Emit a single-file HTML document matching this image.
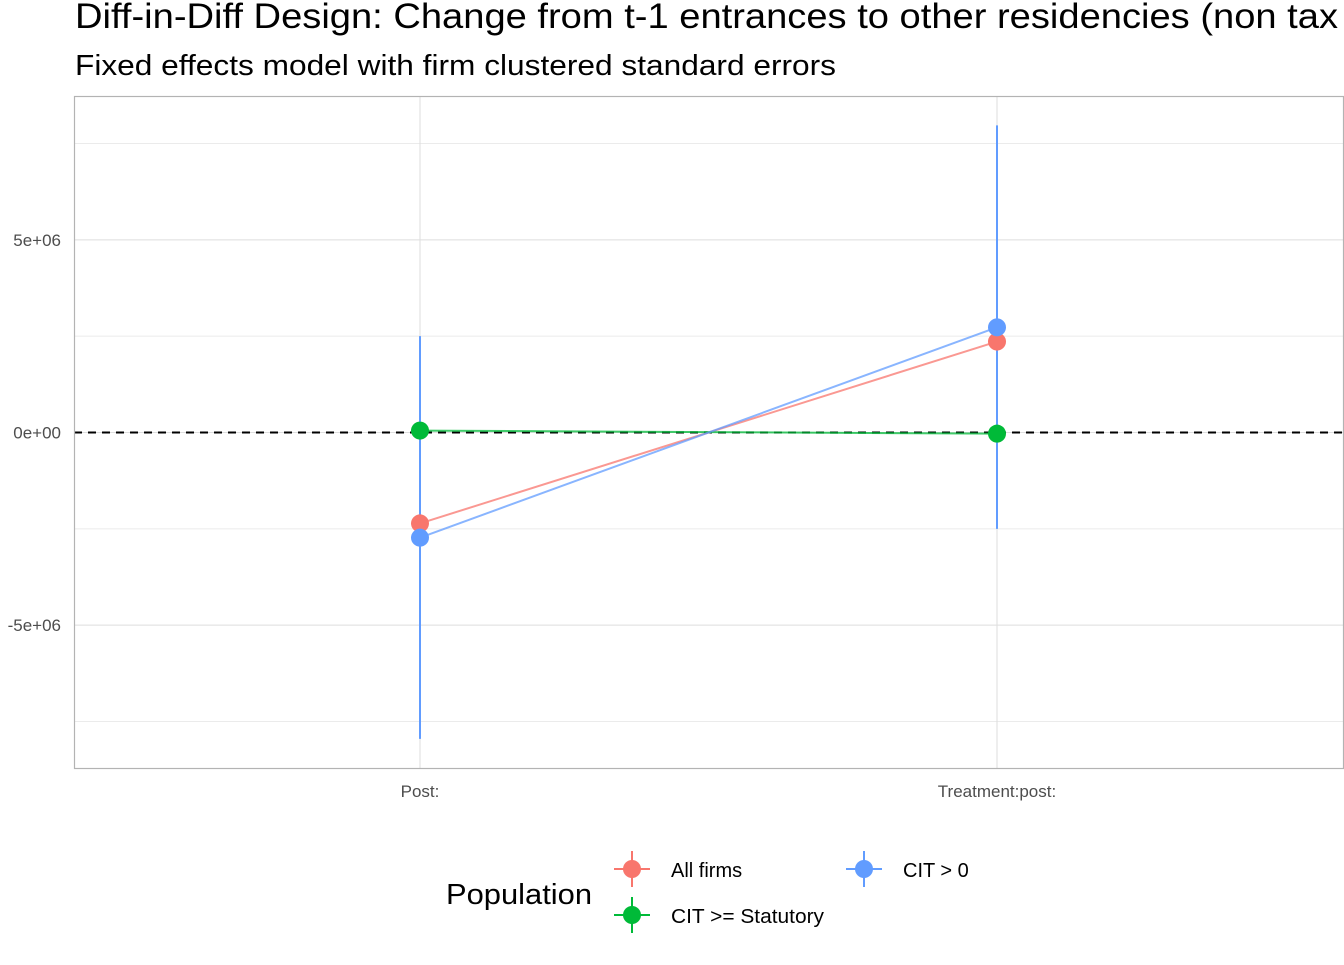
<!DOCTYPE html>
<html><head><meta charset="utf-8"><style>
body{margin:0;background:#fff;font-family:"Liberation Sans",Arial,sans-serif;}
svg text{font-family:"Liberation Sans",Arial,sans-serif;}
</style></head><body>
<svg id="chart" width="1344" height="960" xmlns="http://www.w3.org/2000/svg">
<text x="75" y="28" font-size="35" fill="#000" textLength="1263" lengthAdjust="spacingAndGlyphs">Diff-in-Diff Design: Change from t-1 entrances to other residencies (non tax</text>
<text x="75" y="75" font-size="29" fill="#000" textLength="761" lengthAdjust="spacingAndGlyphs">Fixed effects model with firm clustered standard errors</text>
<g id="grid"></g><g id="marks"></g>
<rect x="74.5" y="96.5" width="1269" height="672" fill="none" stroke="#b3b3b3" stroke-width="1.2"/>
<g>
<text x="446" y="904" font-size="29" fill="#000" textLength="146" lengthAdjust="spacingAndGlyphs">Population</text>
<g>
<line x1="614" y1="869" x2="650" y2="869" stroke="#F8766D" stroke-width="2"/><line x1="632" y1="851" x2="632" y2="887" stroke="#F8766D" stroke-width="2"/><circle cx="632" cy="869" r="9" fill="#F8766D"/>
<text x="671" y="877" font-size="20" fill="#000">All firms</text></g>
<g>
<line x1="614" y1="915" x2="650" y2="915" stroke="#00BA38" stroke-width="2"/><line x1="632" y1="897" x2="632" y2="933" stroke="#00BA38" stroke-width="2"/><circle cx="632" cy="915" r="9" fill="#00BA38"/>
<text x="671" y="923" font-size="20" fill="#000" textLength="153" lengthAdjust="spacingAndGlyphs">CIT &gt;= Statutory</text></g>
<g>
<line x1="846" y1="869" x2="882" y2="869" stroke="#619CFF" stroke-width="2"/><line x1="864" y1="851" x2="864" y2="887" stroke="#619CFF" stroke-width="2"/><circle cx="864" cy="869" r="9" fill="#619CFF"/>
<text x="903" y="877" font-size="20" fill="#000">CIT &gt; 0</text></g>
</g>
</svg>
<script>
const categories=["Post:","Treatment:post:"];
const seriesNames=["All firms","CIT >= Statutory","CIT > 0"];
const seriesColors=["#F8766D","#00BA38","#619CFF"];
const estAll=[-2.36e6,2.36e6];
const lowAll=[-7.6e6,-2.2e6];
const highAll=[2.2e6,7.6e6];
const estStat=[0.05e6,-0.03e6];
const lowStat=[-0.2e6,-0.25e6];
const highStat=[0.3e6,0.2e6];
const estPos=[-2.73e6,2.73e6];
const lowPos=[-7.95e6,-2.5e6];
const highPos=[2.5e6,7.97e6];
const yTicks=[-5e6,0,5e6];
const yTickLabels=["-5e+06","0e+00","5e+06"];
const minorTicks=[-7.5e6,-2.5e6,2.5e6,7.5e6];
const ns="http://www.w3.org/2000/svg";
const y=v=>432.5-v*3.853e-5;
const x=i=>[420,997][i];
const grid=document.getElementById('grid'),marks=document.getElementById('marks'),svg=document.getElementById('chart');
function mk(p,tag,a){const e=document.createElementNS(ns,tag);for(const k in a)e.setAttribute(k,a[k]);p.appendChild(e);return e;}
minorTicks.forEach(v=>{const l=mk(grid,'line',{x1:74,x2:1343,y1:y(v),y2:y(v),stroke:'#ebebeb','stroke-width':1});

});
yTicks.forEach((v,i)=>{const l=mk(grid,'line',{x1:74,x2:1343,y1:y(v),y2:y(v),stroke:'#dedede','stroke-width':1});


const t=mk(svg,'text',{x:61,y:y(v)+6,'font-size':17,fill:'#4d4d4d','text-anchor':'end'});t.textContent=yTickLabels[i];

});
categories.forEach((c,i)=>{const l=mk(grid,'line',{x1:x(i),x2:x(i),y1:96,y2:768,stroke:'#dedede','stroke-width':1});


const t=mk(svg,'text',{x:x(i),y:797,'font-size':17,fill:'#4d4d4d','text-anchor':'middle'});t.textContent=c;

});
const zl=mk(marks,'line',{x1:74,x2:1343,y1:y(0),y2:y(0),stroke:'#000','stroke-width':2,'stroke-dasharray':'8,6'});


const S=[[estAll,lowAll,highAll],[estStat,lowStat,highStat],[estPos,lowPos,highPos]];
S.forEach((s,k)=>{categories.forEach((c,i)=>{const e=mk(marks,'line',{x1:x(i),x2:x(i),y1:y(s[1][i]),y2:y(s[2][i]),stroke:seriesColors[k],'stroke-width':2});

});});
S.forEach((s,k)=>{const l=mk(marks,'polyline',{points:categories.map((c,i)=>x(i)+','+y(s[0][i])).join(' '),fill:'none',stroke:seriesColors[k],'stroke-width':2,'stroke-opacity':0.75});

});
S.forEach((s,k)=>{categories.forEach((c,i)=>{const p=mk(marks,'circle',{cx:x(i),cy:y(s[0][i]),r:9,fill:seriesColors[k]});

});});
</script>
</body></html>
